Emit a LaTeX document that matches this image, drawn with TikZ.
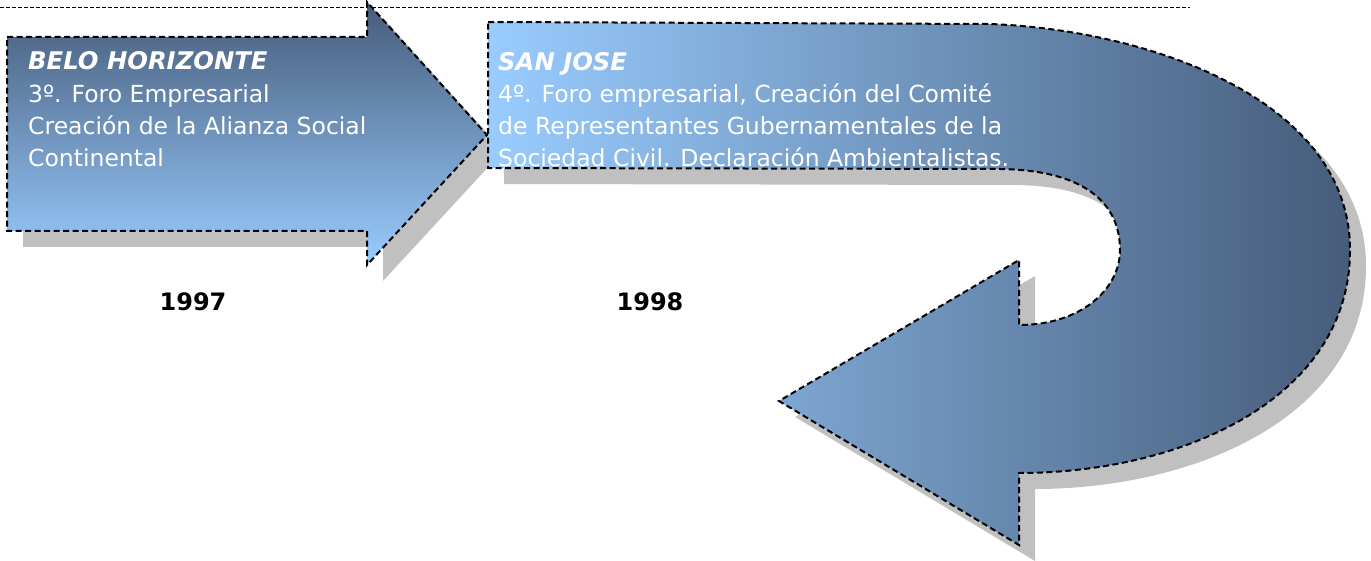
\documentclass[tikz,border=0pt]{standalone}
\usepackage{fontspec}
\setmainfont{DejaVu Sans}
\definecolor{darkblue}{RGB}{70,92,122}
\definecolor{lightblue}{RGB}{153,204,255}
\definecolor{shadowgray}{RGB}{192,192,192}
\begin{document}
\begin{tikzpicture}[x=1pt,y=-1pt,
  outline/.style={draw=black,line width=2pt,dash pattern=on 6pt off 3.5pt,line join=miter},
  shadowfill/.style={fill=shadowgray},
  boxtext/.style={text=white,inner sep=0pt,anchor=base west,font=\fontsize{23.5}{32}\selectfont},
  boxtitle/.style={boxtext,font=\fontsize{24.3}{32}\selectfont\bfseries\itshape},
  yeartext/.style={inner sep=0pt,anchor=base,font=\fontsize{24}{28}\selectfont\bfseries}]
\useasboundingbox (0,0) rectangle (1371,561);
% top dashed rule
\draw[line width=0.8pt,dash pattern=on 4pt off 2pt] (0,7) -- (1190,7);
% shadows
\fill[shadowfill,shift={(16,16)}] (7,37) -- (367,37) -- (367,2) -- (487,135) -- (367,265) -- (367,231) -- (7,231) -- cycle;
\fill[shadowfill,shift={(16,16)}] (488,22) -- (990,24) .. controls (1150,30) and (1350,100) .. (1350,250)
  .. controls (1350,400) and (1180,473) .. (1019,473) -- (1019,545) -- (779,401) -- (1019,260) -- (1019,325)
  .. controls (1080,325) and (1120,290) .. (1120,250) .. controls (1120,200) and (1080,170) .. (1000,169) -- (488,168) -- cycle;
% first arrow
\shade[top color=darkblue,bottom color=lightblue] (7,37) -- (367,37) -- (367,2) -- (487,135) -- (367,265) -- (367,231) -- (7,231) -- cycle;
\draw[outline] (7,37) -- (367,37) -- (367,2) -- (487,135) -- (367,265) -- (367,231) -- (7,231) -- cycle;
% second U-turn arrow
\shade[left color=lightblue,right color=darkblue] (488,22) -- (990,24) .. controls (1150,30) and (1350,100) .. (1350,250)
  .. controls (1350,400) and (1180,473) .. (1019,473) -- (1019,545) -- (779,401) -- (1019,260) -- (1019,325)
  .. controls (1080,325) and (1120,290) .. (1120,250) .. controls (1120,200) and (1080,170) .. (1000,169) -- (488,168) -- cycle;
\draw[outline] (488,22) -- (990,24) .. controls (1150,30) and (1350,100) .. (1350,250)
  .. controls (1350,400) and (1180,473) .. (1019,473) -- (1019,545) -- (779,401) -- (1019,260) -- (1019,325)
  .. controls (1080,325) and (1120,290) .. (1120,250) .. controls (1120,200) and (1080,170) .. (1000,169) -- (488,168) -- cycle;
% texts
\node[boxtitle] (t1) at (28,70) {BELO HORIZONTE};
\node[boxtext] (a1) at (28,103) {3º. Foro Empresarial};
\node[boxtext] (a2) at (28,135) {Creación de la Alianza Social};
\node[boxtext] (a3) at (28,167) {Continental};
\node[boxtitle] (t2) at (498,71) {SAN JOSE};
\node[boxtext] (b1) at (498,103) {4º. Foro empresarial, Creación del Comité};
\node[boxtext] (b2) at (498,135) {de Representantes Gubernamentales de la};
\node[boxtext] (b3) at (498,167) {Sociedad Civil. Declaración Ambientalistas.};
\node[yeartext] (y1) at (193,311) {1997};
\node[yeartext] (y2) at (650,311) {1998};
\end{tikzpicture}
\end{document}
